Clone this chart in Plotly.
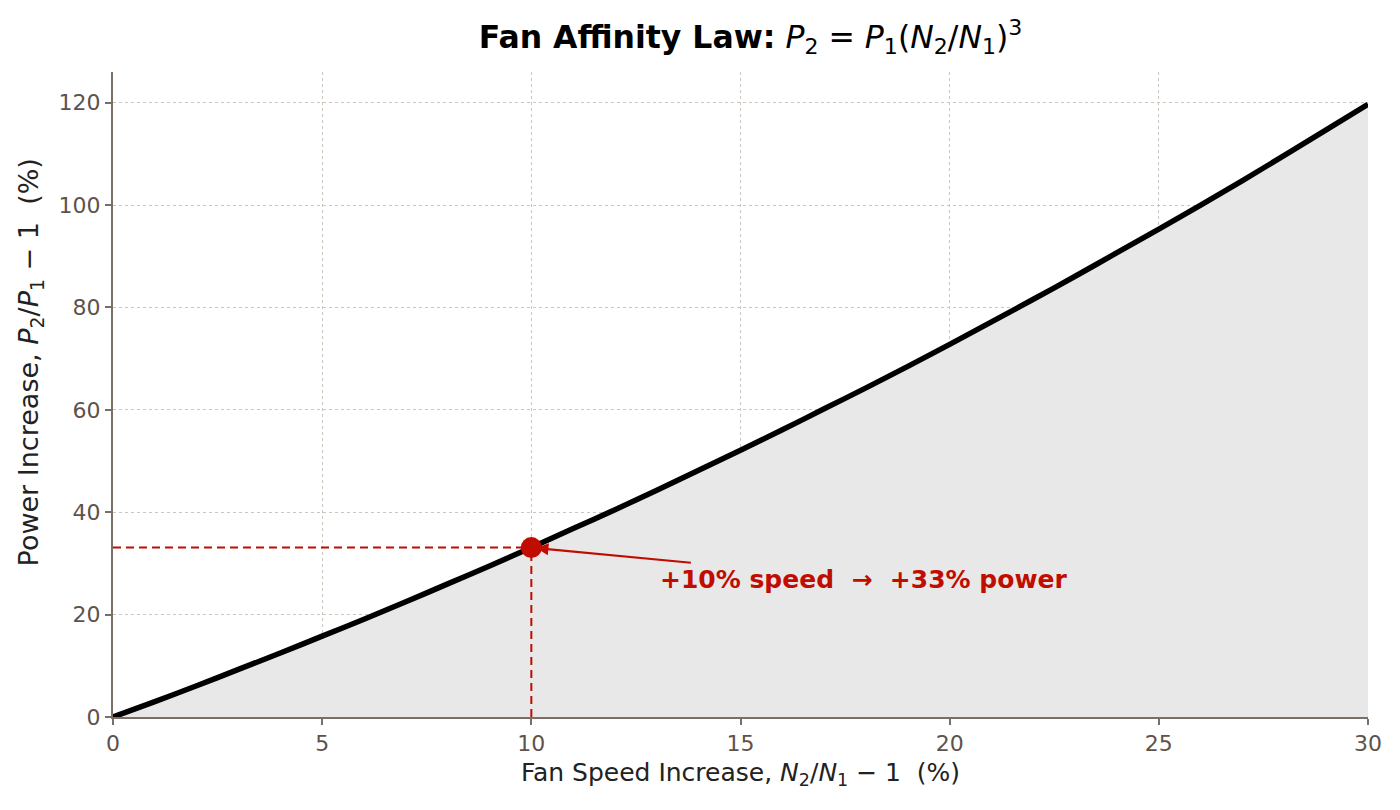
import plotly.graph_objects as go

# fan speed increase (%) and resulting power increase (%)
speed_pct = [0, 1, 2, 3, 4, 5, 6, 7, 8, 9, 10, 11, 12, 13, 14, 15,
             16, 17, 18, 19, 20, 21, 22, 23, 24, 25, 26, 27, 28, 29, 30]
power_pct = [0.0, 3.0, 6.1, 9.3, 12.5, 15.8, 19.1, 22.5, 26.0, 29.5, 33.1,
             36.8, 40.5, 44.3, 48.2, 52.1, 56.1, 60.2, 64.3, 68.5, 72.8,
             77.2, 81.6, 86.1, 90.7, 95.3, 100.0, 104.8, 109.7, 114.7, 119.7]

mark_speed = 10
mark_power = 33.1
label_text = "+10% speed  \u2192  +33% power"

x_ticks = [0, 5, 10, 15, 20, 25, 30]
y_ticks = [0, 20, 40, 60, 80, 100, 120]

red = "#c00d00"
spine = "#7a6e66"
tickc = "#5e524b"
gridc = "#cdc6bf"

fig = go.Figure()

# shaded area under curve
fig.add_trace(go.Scatter(
    x=speed_pct, y=power_pct, mode="lines", fill="tozeroy",
    fillcolor="#e8e8e8", line=dict(color="black", width=5.5, shape="spline", smoothing=0.6),
    hoverinfo="skip", showlegend=False,
))

# dashed guide lines to the marked point
fig.add_trace(go.Scatter(
    x=[0, mark_speed], y=[mark_power, mark_power], mode="lines",
    line=dict(color=red, width=2, dash="8px,5px"), showlegend=False,
))
fig.add_trace(go.Scatter(
    x=[mark_speed, mark_speed], y=[0, mark_power], mode="lines",
    line=dict(color=red, width=2, dash="8px,5px"), showlegend=False,
))
fig.add_trace(go.Scatter(
    x=[mark_speed], y=[mark_power], mode="markers",
    marker=dict(color=red, size=21), showlegend=False,
))

fig.add_annotation(
    x=mark_speed, y=mark_power, ax=13.85, ay=30.1,
    xref="x", yref="y", axref="x", ayref="y",
    text="", showarrow=True, arrowhead=2, arrowsize=1.1, arrowwidth=2.2,
    arrowcolor=red, standoff=5,
)
fig.add_annotation(
    x=13.03, y=26.8, xref="x", yref="y", xanchor="left", yanchor="middle",
    text="<b>" + label_text + "</b>", showarrow=False,
    font=dict(color=red, size=25, family="DejaVu Sans"),
)

# y axis title placed by hand (sits a bit above the axis middle)
fig.add_annotation(
    x=-0.066, y=0.55, xref="paper", yref="paper", xanchor="center", yanchor="middle",
    textangle=-90, showarrow=False,
    text="Power Increase, <i>P</i><sub>2</sub>/<i>P</i><sub>1</sub> \u2212 1  (%)",
    font=dict(size=27, color="#222222"),
)

fig.update_layout(
    width=1400, height=810,
    paper_bgcolor="white", plot_bgcolor="white",
    margin=dict(l=105, r=40, t=64, b=101),
    font=dict(family="DejaVu Sans", size=22, color="#222222"),
    title=dict(
        text="<b>Fan Affinity Law:</b> <i>P</i><sub>2</sub> = <i>P</i><sub>1</sub>"
             "(<i>N</i><sub>2</sub>/<i>N</i><sub>1</sub>)<sup>3</sup>",
        xref="paper", x=0.508, xanchor="center", y=0.978, yanchor="top",
        font=dict(size=31.5, color="black"),
    ),
    showlegend=False,
)

fig.update_xaxes(
    range=[0, 30], tickvals=x_ticks, showline=True, linecolor=spine, linewidth=2,
    ticks="outside", ticklen=6, tickcolor=spine, tickwidth=1.5,
    tickfont=dict(color=tickc, size=22),
    showgrid=True, gridcolor=gridc, griddash="dot", gridwidth=1.2,
    zeroline=False, mirror=False,
    title=dict(text="Fan Speed Increase, <i>N</i><sub>2</sub>/<i>N</i><sub>1</sub> \u2212 1  (%)",
               font=dict(size=25), standoff=8),
)
fig.update_yaxes(
    range=[0, 126], tickvals=y_ticks, showline=True, linecolor=spine, linewidth=2,
    ticks="outside", ticklen=6, tickcolor=spine, tickwidth=1.5,
    tickfont=dict(color=tickc, size=22),
    showgrid=True, gridcolor=gridc, griddash="dot", gridwidth=1.2,
    zeroline=False,
)

fig.write_html("out.html")
